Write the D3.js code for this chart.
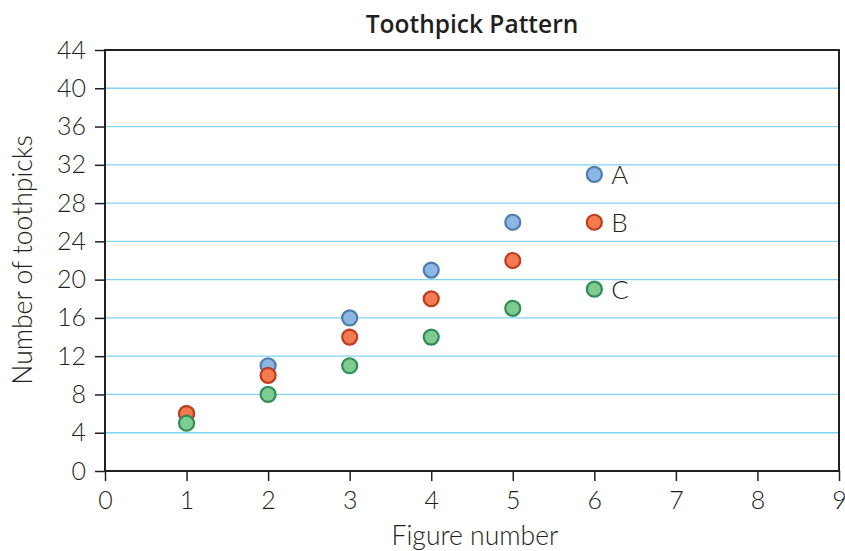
<!DOCTYPE html>
<html><head><meta charset="utf-8">
<script src="https://cdn.jsdelivr.net/npm/d3@7/dist/d3.min.js"></script>
<style>body{margin:0;background:#fff}svg{display:block}text{font-family:Lato,"Open Sans",sans-serif;fill:#231f20}</style>
</head><body><svg id="c" width="845" height="551"></svg>
<script>
const figures = [1, 2, 3, 4, 5];
const seriesA = [6, 11, 16, 21, 26];
const seriesB = [6, 10, 14, 18, 22];
const seriesC = [5, 8, 11, 14, 17];
const legendNames = ["A", "B", "C"];
const legendY = [31, 26, 19];
const legendX = 6;
const xTicks = [0,1,2,3,4,5,6,7,8,9];
const yTicks = [0,4,8,12,16,20,24,28,32,36,40,44];

const svg = d3.select("#c");
const L = 105, R = 839, T = 50, B = 471;
const x = d3.scaleLinear().domain([0, 9]).range([L, R]);
const y = d3.scaleLinear().domain([0, 44]).range([B, T]);

// gridlines
svg.append("g").selectAll("line").data(yTicks.filter(d => d > 0 && d < 44)).join("line")
  .attr("x1", L).attr("x2", R).attr("y1", d => y(d)).attr("y2", d => y(d))
  .attr("stroke", "#7fd3f0").attr("stroke-width", 1.3);

// axes
const ya = svg.append("g").attr("transform", `translate(${L},0)`)
  .call(d3.axisLeft(y).tickValues(yTicks).tickSize(10).tickPadding(9).tickSizeOuter(0));
const xa = svg.append("g").attr("transform", `translate(0,${B})`)
  .call(d3.axisBottom(x).tickValues(xTicks).tickSize(10).tickPadding(10).tickSizeOuter(0));
[ya, xa].forEach(g => {
  g.select(".domain").remove();
  g.selectAll(".tick line").attr("stroke", "#231f20").attr("stroke-width", 1.5);
  g.selectAll(".tick text").style("font-size", "25px").style("font-weight", "300")
    .style("font-family", "Lato,'Open Sans',sans-serif").attr("fill", "#231f20");
});

// frame
svg.append("rect").attr("x", L).attr("y", T).attr("width", R - L).attr("height", B - T)
  .attr("fill", "none").attr("stroke", "#231f20").attr("stroke-width", 2);

const styles = [
  {fill: "#8db7e3", stroke: "#4d7cae"},
  {fill: "#f47b4f", stroke: "#c03a1e"},
  {fill: "#7fcb91", stroke: "#2f8d57"}
];
[seriesA, seriesB, seriesC].forEach((s, i) => {
  svg.append("g").selectAll("circle").data(figures.map((f, j) => [f, s[j]])).join("circle")
    .attr("cx", d => x(d[0])).attr("cy", d => y(d[1])).attr("r", 7.5)
    .attr("fill", styles[i].fill).attr("stroke", styles[i].stroke).attr("stroke-width", 2.2);
});

// legend
const lg = svg.append("g").selectAll("g").data(legendNames).join("g");
lg.append("circle").attr("cx", x(legendX)).attr("cy", (d, i) => y(legendY[i])).attr("r", 7.5)
  .attr("fill", (d, i) => styles[i].fill).attr("stroke", (d, i) => styles[i].stroke).attr("stroke-width", 2.2);
lg.append("text").attr("x", x(legendX) + 17).attr("y", (d, i) => y(legendY[i])).attr("dy", "0.36em")
  .style("font-size", "26px").style("font-weight", "300").text(d => d);

// title and labels
svg.append("text").attr("x", 472).attr("y", 33).attr("text-anchor", "middle")
  .style("font-family", "'Open Sans',Lato,sans-serif")
  .style("font-size", "24.5px").style("font-weight", "600").text("Toothpick Pattern");
svg.append("text").attr("x", 475).attr("y", 545).attr("text-anchor", "middle")
  .style("font-size", "26.5px").style("font-weight", "300").text("Figure number");
svg.append("text").attr("transform", `translate(32,260) rotate(-90)`).attr("text-anchor", "middle")
  .style("font-size", "26.5px").style("font-weight", "300").text("Number of toothpicks");
</script></body></html>
